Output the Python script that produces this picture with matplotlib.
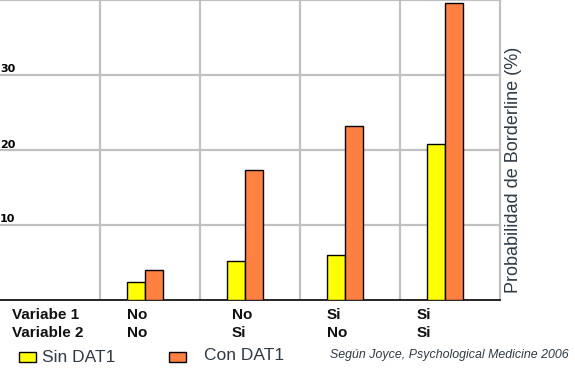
import matplotlib
matplotlib.use("Agg")
import matplotlib.pyplot as plt
import matplotlib.transforms as mtransforms
import numpy as np

# data
var1 = ["No", "No", "Si", "Si"]
var2 = ["No", "Si", "No", "Si"]
sin_dat1 = [2.4, 5.2, 6.0, 20.8]
con_dat1 = [3.9, 17.3, 23.2, 39.6]
yticks = [10, 20, 30]

W, H = 575, 369
plt.rcParams['font.family'] = ['Liberation Sans', 'DejaVu Sans']

fig = plt.figure(figsize=(W / 100, H / 100), dpi=100)
ax = fig.add_axes([0, (H - 299.5) / H, 499.5 / W, (299.5 + 0.5) / H])

grid_c = "#c0c0c0"
x = np.arange(1, 5) + 0.455
bw = 0.18
ax.bar(x - bw / 2, sin_dat1, bw, color="#ffff00", edgecolor="black", linewidth=1, zorder=3)
ax.bar(x + bw / 2, con_dat1, bw, color="#ff8040", edgecolor="black", linewidth=1, zorder=3)

ax.set_xlim(0, 5)
ax.set_ylim(0, 40)
ax.set_xticks(np.arange(1, 5))
ax.set_yticks(yticks)
ax.grid(True, color=grid_c, linewidth=1.6, zorder=0)
ax.tick_params(length=0, labelbottom=False, labelleft=False)
for s in ["top", "right"]:
    ax.spines[s].set_color(grid_c)
    ax.spines[s].set_linewidth(1.6)
ax.spines["left"].set_visible(False)
ax.spines["bottom"].set_color("black")
ax.spines["bottom"].set_linewidth(1.2)

for v in yticks:
    ax.text(0.0, v, str(v), transform=ax.get_yaxis_transform(), ha="left", va="bottom",
            fontsize=8, fontweight="bold", family="DejaVu Sans")

def px(xp, yp):
    return xp / W, 1 - yp / H

txt = "#111111"
fig.text(*px(12, 315), "Variabe 1", fontsize=11, fontweight="bold", color=txt, va="center")
fig.text(*px(12, 333), "Variable 2", fontsize=11, fontweight="bold", color=txt, va="center")
label_offsets = [0.27, 0.32, 0.27, 0.17]
bt = mtransforms.blended_transform_factory(ax.transData, fig.transFigure)
for i, (a, b) in enumerate(zip(var1, var2)):
    fig.text(i + 1 + label_offsets[i], 1 - 315 / H, a, transform=bt, fontsize=11,
             fontweight="bold", color=txt, va="center")
    fig.text(i + 1 + label_offsets[i], 1 - 333 / H, b, transform=bt, fontsize=11,
             fontweight="bold", color=txt, va="center")

dark = "#2f3a45"
fig.patches.append(plt.Rectangle(px(19, 362), 17 / W, 10 / H, transform=fig.transFigure,
                                 facecolor="#ffff00", edgecolor="black", linewidth=1))
fig.text(*px(42, 358), "Sin DAT1", fontsize=12.5, color=dark, va="center")
fig.patches.append(plt.Rectangle(px(169, 362), 17 / W, 10 / H, transform=fig.transFigure,
                                 facecolor="#ff8040", edgecolor="black", linewidth=1))
fig.text(*px(204, 355), "Con DAT1", fontsize=12.5, color=dark, va="center")
fig.text(*px(330, 355), "Según Joyce, Psychological Medicine 2006", fontsize=8.9,
         style="italic", color=dark, va="center")

fig.text(*px(514, 170), "Probabilidad de Borderline (%)", rotation=90, fontsize=13,
         color=dark, ha="center", va="center")

fig.savefig("out.png", dpi=100)
